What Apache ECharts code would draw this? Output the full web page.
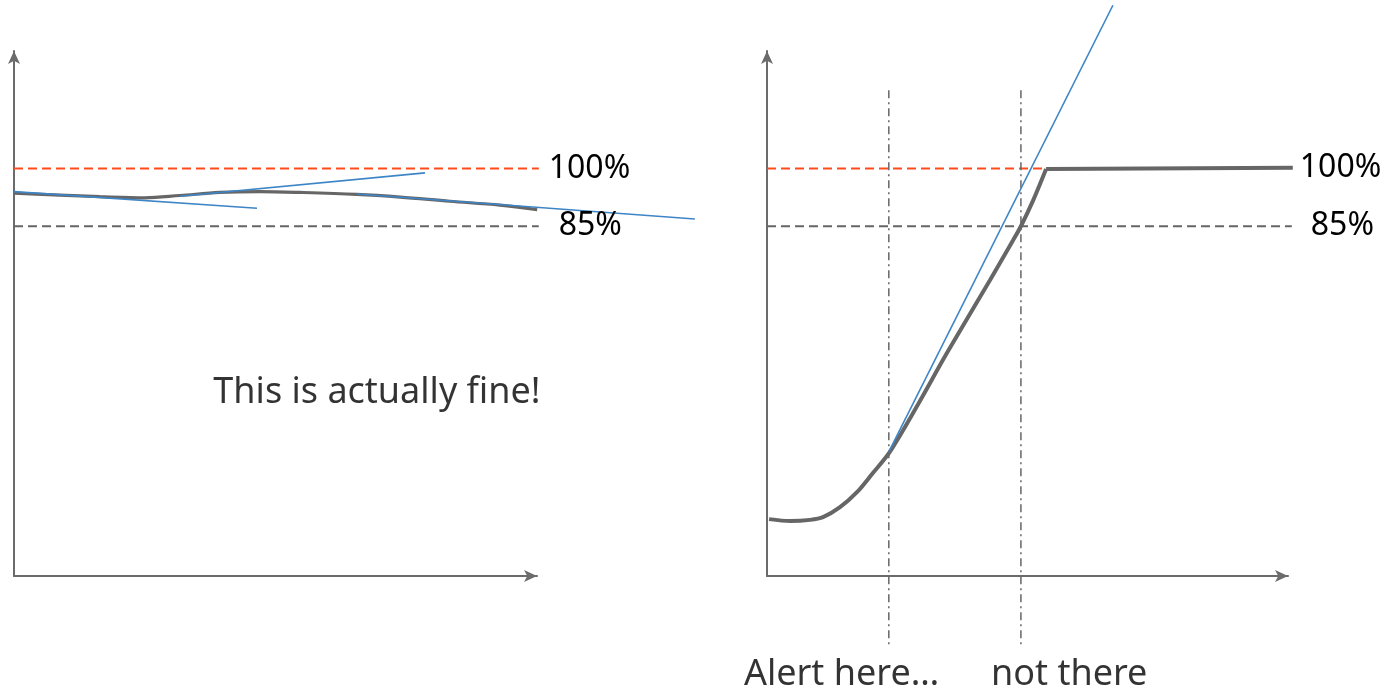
<!DOCTYPE html>
<html>
<head>
<meta charset="utf-8">
<script src="https://cdn.jsdelivr.net/npm/echarts@6/dist/echarts.min.js"></script>
<style>
html,body{margin:0;padding:0;background:#fff;}
#chart{width:1386px;height:692px;}
</style>
</head>
<body>
<div id="chart"></div>
<script>
// ---- data (x: time units per panel, y: percent of limit) ----
const limitHigh = 100;
const limitLow = 85;
const highLabel = '100%';
const lowLabel = '85%';

// left panel: usage stays flat
const leftUsage = [[0,93.6],[8.9,93.1],[16.6,92.7],[25.3,92.4],[32.1,93.0],[39.8,93.8],[47.6,94.0],[55.3,93.8],[66.3,93.3],[74.7,92.6],[84.3,91.5],[94.0,90.5],[101.2,89.3]];
const leftTrendA = [[0,94.0],[47.0,89.7]];
const leftTrendB = [[32.1,92.8],[79.5,98.9]];
const leftTrendC = [[66.3,93.4],[131.7,86.9]];
const leftLimitEnd = 101.5;
const leftNote = 'This is actually fine!';
const leftNotePos = [70.2, 41.6];

// right panel: usage ramps up and saturates
const rightUsage = [[0.4,8.8],[4.5,8.3],[8.4,8.6],[10.9,9.3],[14.2,11.9],[17.5,15.8],[20.6,20.8],[23.9,26.3],[29.4,38.7],[35.0,52.0],[43.4,71.0],[47.9,81.4],[49.4,85.0],[51.8,91.8],[54.3,99.9]];
const rightPlateau = [[54.3,99.9],[102.3,100.2]];
const rightTrend = [[23.7,26.3],[67.3,142.5]];
const rightHighEnd = 54.1;
const rightLowEnd = 102.1;
const alertTimes = [23.7, 49.4];
const alertSpan = [120.4, -24.0];
const alertNotes = ['Alert here…', 'not there'];
const alertNotePos = [[14.5, -31.8], [58.8, -31.8]];

// value ranges of the plotting areas
const yRange = [-6, 130.6];
const leftXRange = [0, 135.4];
const rightXRange = [0, 105.06];

// ---- styles ----
const FONT = '"Noto Sans", "Open Sans", sans-serif';
const AXIS = '#6b6b6b';
const GRAY = '#666666';
const RED = '#ff4a1c';
const BLUE = '#3d85c6';

function hiddenAxis(gi, range){
  return {type:'value', gridIndex:gi, min:range[0], max:range[1], show:false,
    axisLine:{show:false}, axisTick:{show:false}, axisLabel:{show:false}, splitLine:{show:false}};
}
function arrowAxis(gi){
  return {type:'value', gridIndex:gi, min:0, max:1,
    axisLine:{show:true, onZero:false, symbol:['none','arrow'], symbolSize:[9,13], lineStyle:{color:AXIS, width:2}},
    axisTick:{show:false}, axisLabel:{show:false}, splitLine:{show:false}};
}
function line(gi, data, color, width, type, extra){
  return Object.assign({type:'line', xAxisIndex:gi, yAxisIndex:gi, data:data, symbol:'none', clip:false, silent:true,
    lineStyle:{color:color, width:width, type:type||'solid'}}, extra||{});
}
function endLbl(text, dist){
  return {endLabel:{show:true, formatter:text, distance:dist, fontSize:32, color:'#000', fontFamily:FONT}};
}
function note(gi, pos, text){
  return {type:'scatter', xAxisIndex:gi, yAxisIndex:gi, data:[pos], symbolSize:1, silent:true, clip:false,
    itemStyle:{color:'rgba(0,0,0,0)'},
    label:{show:true, position:'inside', formatter:text, fontSize:36, color:'#000', fontFamily:FONT}};
}

const series = [
  // left
  line(0, [[0,limitHigh],[leftLimitEnd,limitHigh]], RED, 2, [9,5], endLbl(highLabel, 10)),
  line(0, [[0,limitLow],[leftLimitEnd,limitLow]], GRAY, 2, [9,5], endLbl(lowLabel, 20)),
  line(0, leftUsage, GRAY, 3.2, 'solid', {smooth:0.35}),
  line(0, leftTrendA, BLUE, 1.6),
  line(0, leftTrendB, BLUE, 1.6),
  line(0, leftTrendC, BLUE, 1.6),
  note(0, leftNotePos, leftNote),
  // right
  line(1, [[0,limitHigh],[rightHighEnd,limitHigh]], RED, 2, [9,5]),
  line(1, [[0,limitLow],[rightLowEnd,limitLow]], GRAY, 2, [9,5], endLbl(lowLabel, 19)),
  line(1, [[alertTimes[0],alertSpan[0]],[alertTimes[0],alertSpan[1]]], GRAY, 1.5, [8,4,2,4]),
  line(1, [[alertTimes[1],alertSpan[0]],[alertTimes[1],alertSpan[1]]], GRAY, 1.5, [8,4,2,4]),
  line(1, rightUsage, GRAY, 4, 'solid', {smooth:0.3}),
  line(1, rightPlateau, GRAY, 4, 'solid', endLbl(highLabel, 7)),
  line(1, rightTrend, BLUE, 1.6),
  note(1, alertNotePos[0], alertNotes[0]),
  note(1, alertNotePos[1], alertNotes[1])
];

const chart = echarts.init(document.getElementById('chart'), null, {renderer:'canvas'});
chart.setOption({
  animation:false,
  backgroundColor:'#fff',
  grid:[
    {left:14, top:51, width:700, height:525},   // left plotting area
    {left:767, top:51, width:540, height:525},  // right plotting area
    {left:14, top:51, width:523, height:525},   // left axes
    {left:767, top:51, width:521, height:525}   // right axes
  ],
  xAxis:[hiddenAxis(0, leftXRange), hiddenAxis(1, rightXRange), arrowAxis(2), arrowAxis(3)],
  yAxis:[hiddenAxis(0, yRange), hiddenAxis(1, yRange), arrowAxis(2), arrowAxis(3)],
  series:series
});
</script>
</body>
</html>
